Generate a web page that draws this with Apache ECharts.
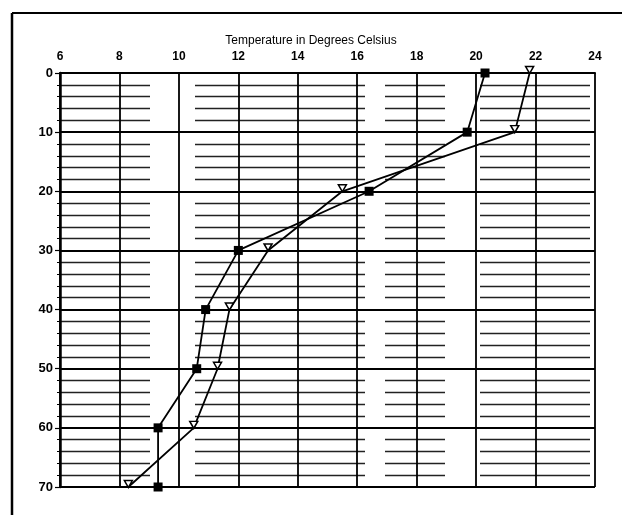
<!DOCTYPE html>
<html>
<head>
<meta charset="utf-8">
<script src="https://cdn.jsdelivr.net/npm/echarts@6/dist/echarts.min.js"></script>
<style>
  html, body { margin: 0; padding: 0; background: #fff; }
  #chart { width: 622px; height: 515px; }
</style>
</head>
<body>
<div id="chart"></div>
<script>
// Depth below surface (m) for each reading
const depths = [0, 10, 20, 30, 40, 50, 60, 70];
// Temperature profiles, degrees Celsius
const profileSquares = [20.3, 19.7, 16.4, 12.0, 10.9, 10.6, 9.3, 9.3];
const profileTriangles = [21.8, 21.3, 15.5, 13.0, 11.7, 11.3, 10.5, 8.3];

const tempTicks = { min: 6, max: 24, step: 2 };
const depthTicks = { min: 0, max: 70, step: 10 };

const pairs = (xs, ys) => xs.map((x, i) => [x, ys[i]]);

const font = '"Liberation Sans", Arial, sans-serif';
const chart = echarts.init(document.getElementById('chart'), null, { renderer: 'canvas' });

chart.setOption({
  animation: false,
  backgroundColor: '#ffffff',
  title: {
    text: 'Temperature in Degrees Celsius',
    left: 'center',
    top: 30,
    textStyle: { fontFamily: font, fontSize: 12, fontWeight: 'normal', color: '#000' }
  },
  grid: { left: 60, right: 27, top: 73, bottom: 28 },
  xAxis: {
    type: 'value',
    position: 'top',
    min: tempTicks.min,
    max: tempTicks.max,
    interval: tempTicks.step,
    axisLine: { show: true, lineStyle: { color: '#000', width: 2 } },
    axisTick: { show: false },
    axisLabel: { fontFamily: font, fontSize: 12, fontWeight: 'bold', color: '#000', margin: 10 },
    splitLine: { show: true, lineStyle: { color: '#000', width: 1.8 } }
  },
  yAxis: {
    type: 'value',
    inverse: true,
    min: depthTicks.min,
    max: depthTicks.max,
    interval: depthTicks.step,
    axisLine: { show: true, lineStyle: { color: '#000', width: 2.5 } },
    axisTick: { show: true, length: 5, lineStyle: { color: '#000', width: 1.2 } },
    minorTick: { show: true, splitNumber: 5, length: 3, lineStyle: { color: '#000' } },
    axisLabel: { fontFamily: font, fontSize: 13, fontWeight: 'bold', color: '#000', margin: 7 },
    splitLine: { show: true, lineStyle: { color: '#000', width: 1.8 } },
    minorSplitLine: {
      show: true,
      lineStyle: { color: '#222', width: 1.4, type: [90, 45, 170, 20, 60, 35, 110, 15] }
    }
  },
  series: [
    {
      type: 'line',
      data: pairs(profileSquares, depths),
      symbol: 'rect',
      symbolSize: 9,
      itemStyle: { color: '#000' },
      lineStyle: { color: '#000', width: 1.8 },
      z: 5
    },
    {
      type: 'line',
      data: pairs(profileTriangles, depths),
      symbol: 'path://M0,0 L10,0 L5,9 Z',
      symbolSize: [8, 7],
      symbolOffset: [0, -3],
      itemStyle: { color: '#fff', borderColor: '#000', borderWidth: 1.5 },
      lineStyle: { color: '#000', width: 1.8 },
      z: 4
    }
  ],
  graphic: [
    { type: 'line', shape: { x1: 12, y1: 13, x2: 622, y2: 13 }, style: { stroke: '#000', lineWidth: 2 } },
    { type: 'line', shape: { x1: 12, y1: 13, x2: 12, y2: 515 }, style: { stroke: '#000', lineWidth: 2.5 } }
  ]
});
</script>
</body>
</html>
